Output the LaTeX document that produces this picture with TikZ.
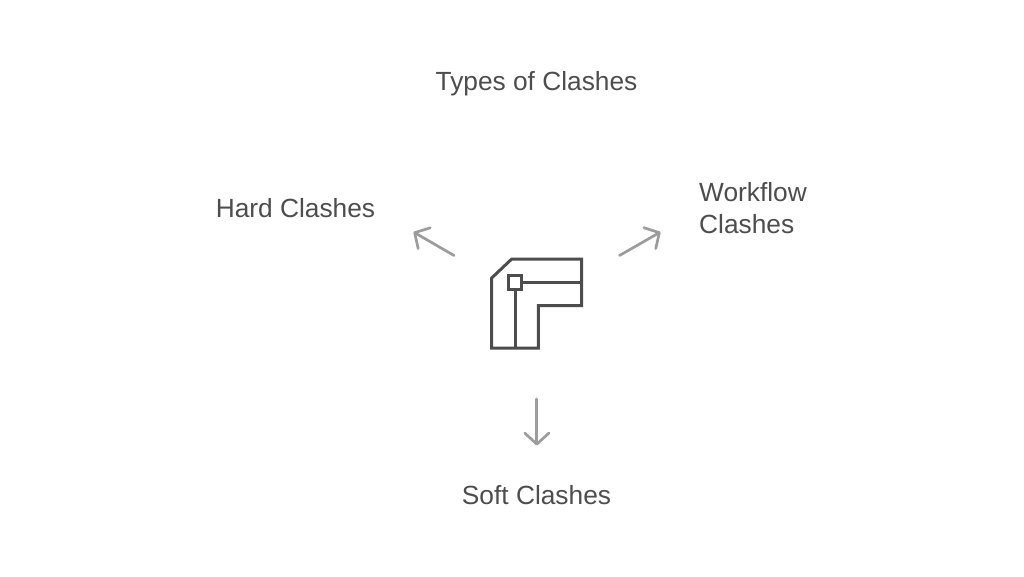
\documentclass[tikz,border=0pt]{standalone}
\usepackage{fontspec}
\setmainfont{Liberation Sans}
\usetikzlibrary{arrows.meta}
\definecolor{txt}{HTML}{4D4D4D}
\definecolor{arr}{HTML}{9C9C9C}
\tikzset{
  lbl/.style={text=txt,font=\fontsize{26.3}{32}\selectfont,inner sep=0pt,align=left},
  conn/.style={draw=arr,line width=2.7pt,line cap=round,-{Straight Barb[length=11pt,width=24pt,line width=2.7pt,round]}},
  icon/.style={draw=txt,line width=3pt,line join=miter}
}
\begin{document}
\begin{tikzpicture}[x=1pt,y=-1pt]
\useasboundingbox (0,0) rectangle (1024,576);
\node[lbl] (title) at (536.5,84) {Types of Clashes};
\node[lbl] (hard) at (295.5,208) {Hard Clashes};
\node[lbl,anchor=west] (work) at (699,208) {Workflow\\Clashes};
\node[lbl] (soft) at (536.5,495) {Soft Clashes};
% icon
\node[icon,minimum size=13.5pt,inner sep=0pt,rectangle] (sq) at (515.2,282.3) {};
\draw[icon] (511.7,259) -- (581.7,259) -- (581.7,305.7) -- (538.3,305.7) -- (538.3,348) -- (491.7,348) -- (491.7,278) -- cycle;
\coordinate (e1) at (581.7,282.3);
\coordinate (e2) at (515.2,348);
\draw[icon] (sq.east) -- (e1);
\draw[icon] (sq.south) -- (e2);
% arrows
\coordinate (a1) at (454,255.5);
\coordinate (b1) at (413.5,232);
\coordinate (a2) at (619.5,255.5);
\coordinate (b2) at (660.5,232);
\coordinate (a3) at (536.8,399);
\coordinate (b3) at (536.8,445.5);
\draw[conn] (a1) -- (b1);
\draw[conn] (a2) -- (b2);
\draw[conn] (a3) -- (b3);
\end{tikzpicture}
\end{document}
